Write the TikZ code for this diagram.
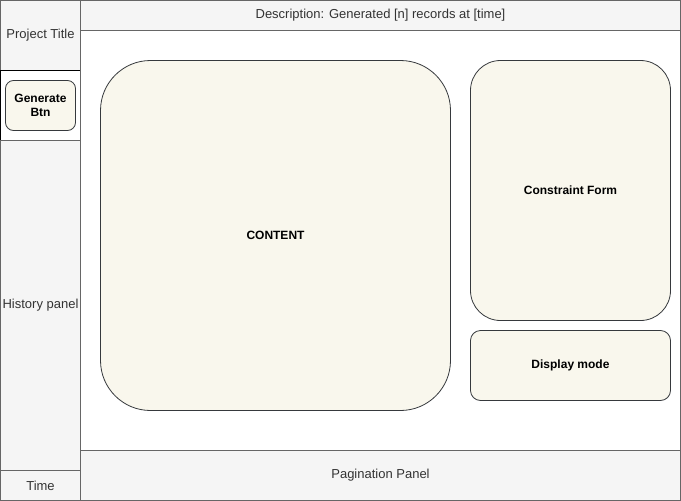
\documentclass[tikz,border=0pt]{standalone}
\usepackage{fontspec}
\setmainfont{Liberation Sans}
\definecolor{pannello}{HTML}{F5F5F5}
\definecolor{bordopan}{HTML}{666666}
\definecolor{testopan}{HTML}{333333}
\definecolor{crema}{HTML}{F9F7ED}
\definecolor{bordocrema}{HTML}{36393D}
\tikzset{
  pannello/.style={draw=bordopan, fill=pannello, line width=0.8pt},
  blocco/.style={draw=bordocrema, fill=crema, line width=0.8pt},
  testo/.style={font=\fontsize{13}{15}\selectfont, text=testopan, align=center},
  grassetto/.style={font=\fontsize{12}{14}\selectfont\bfseries, text=black, align=center}
}
\begin{document}
\begin{tikzpicture}[x=1pt,y=-1pt]
        \useasboundingbox (0,0) rectangle (681,501);
        %colonna sinistra
        \draw[pannello] (0.5,0.5) rectangle (80.5,70.5);
        \node[testo] (titolo) at (40.5,35) {Project Title};
        \draw[draw=black, fill=white, line width=0.8pt] (0.5,70.5) rectangle (80.5,140.5);
        \draw[blocco, rounded corners=8pt] (5.5,80.5) rectangle (75.5,130.5);
        \node[grassetto] (genera) at (40.5,105.5) {Generate\\Btn};
        \draw[pannello] (0.5,140.5) rectangle (80.5,470.5);
        \node[testo] (storia) at (40.5,305) {History panel};
        \draw[pannello] (0.5,470.5) rectangle (80.5,500.5);
        \node[testo] (tempo) at (40.5,485.5) {Time};
        %barra descrizione
        \draw[pannello] (80.5,0.5) rectangle (680.5,30.5);
        \node[testo] (descr) at (380.5,15.5) {Description: Generated [n] records at [time]};
        %area principale
        \draw[draw=bordopan, fill=white, line width=0.8pt] (80.5,30.5) rectangle (680.5,450.5);
        \draw[pannello] (80.5,450.5) rectangle (680.5,500.5);
        \node[testo] (pagine) at (380.5,475.5) {Pagination Panel};
        %blocchi
        \draw[blocco, rounded corners=50pt] (100.5,60.5) rectangle (450.5,410.5);
        \node[grassetto] (contenuto) at (275.5,235.5) {CONTENT};
        \draw[blocco, rounded corners=30pt] (470.5,60.5) rectangle (670.5,320.5);
        \node[grassetto] (vincoli) at (570.5,190.5) {Constraint Form};
        \draw[blocco, rounded corners=10pt] (470.5,330.5) rectangle (670.5,400.5);
        \node[grassetto] (modo) at (570.5,365.5) {Display mode};
\end{tikzpicture}
\end{document}
